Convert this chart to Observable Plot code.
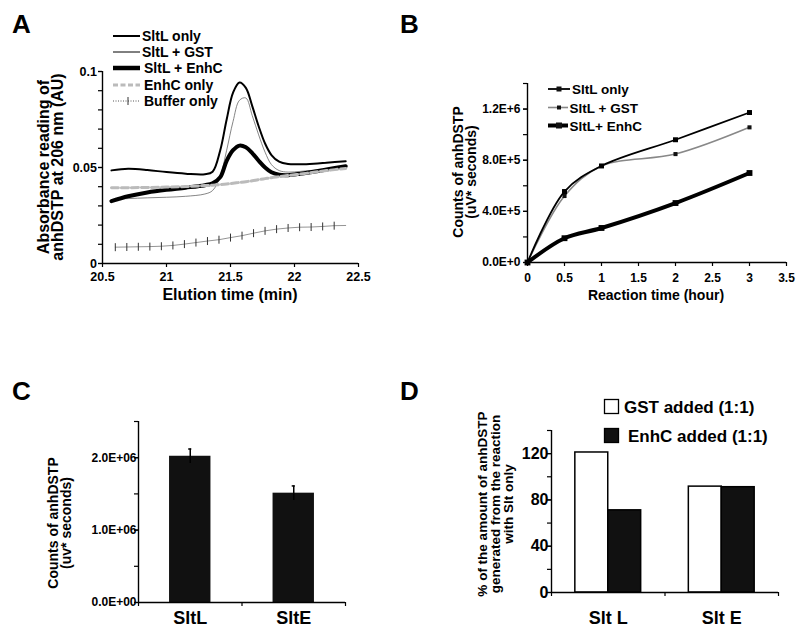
<!DOCTYPE html>
<html><head><meta charset="utf-8">
<script src="https://cdn.jsdelivr.net/npm/d3@7"></script>
<script src="https://cdn.jsdelivr.net/npm/@observablehq/plot@0.6"></script>
<style>
html,body{margin:0;padding:0;background:#fff;}
#fig{position:relative;width:800px;height:634px;overflow:hidden;background:#fff;}
</style></head><body><div id="fig"></div>
<script>
// ---------- Panel A: chromatogram ----------
const aTime = [20.57, 20.7, 20.85, 21.0, 21.15, 21.3, 21.36, 21.42, 21.47, 21.52, 21.57, 21.62, 21.67, 21.72, 21.77, 21.82, 21.88, 21.95, 22.05, 22.15, 22.25, 22.4];
const aSltLOnly = [0.0485, 0.0493, 0.0487, 0.0476, 0.0468, 0.0465, 0.0478, 0.0590, 0.0750, 0.0890, 0.0943, 0.0915, 0.0820, 0.0715, 0.0625, 0.0565, 0.0530, 0.0518, 0.0517, 0.0520, 0.0525, 0.0533];
const aSltLGST  = [0.0333, 0.0338, 0.0342, 0.0345, 0.0350, 0.0362, 0.0380, 0.0455, 0.0590, 0.0740, 0.0850, 0.0862, 0.0770, 0.0670, 0.0580, 0.0515, 0.0484, 0.0476, 0.0480, 0.0486, 0.0492, 0.0502];
const aSltLEnhC = [0.0325, 0.0350, 0.0370, 0.0384, 0.0395, 0.0408, 0.0418, 0.0450, 0.0535, 0.0590, 0.0614, 0.0605, 0.0575, 0.0535, 0.0500, 0.0475, 0.0462, 0.0460, 0.0468, 0.0478, 0.0490, 0.0507];
const aEnhCOnly = [0.0395, 0.0395, 0.0396, 0.0398, 0.0401, 0.0406, 0.0408, 0.0411, 0.0414, 0.0418, 0.0422, 0.0426, 0.0431, 0.0437, 0.0442, 0.0447, 0.0452, 0.0458, 0.0466, 0.0475, 0.0484, 0.0495];
const aBufTime = [20.60, 20.69, 20.78, 20.87, 20.96, 21.05, 21.14, 21.23, 21.32, 21.41, 21.50, 21.59, 21.68, 21.77, 21.86, 21.95, 22.04, 22.13, 22.22, 22.31, 22.40];
const aBufVal  = [0.0085, 0.0086, 0.0087, 0.0088, 0.0090, 0.0094, 0.0101, 0.0109, 0.0117, 0.0124, 0.0135, 0.0145, 0.0158, 0.0170, 0.0179, 0.0185, 0.0189, 0.0190, 0.0193, 0.0197, 0.0198];
const aSeries = ["SltL only", "SltL + GST", "SltL + EnhC", "EnhC only", "Buffer only"];
const aXTicks = [20.5, 21, 21.5, 22, 22.5];
const aXTickLabels = ["20.5", "21", "21.5", "22", "22.5"];
const aYTicks = [0, 0.01, 0.02, 0.03, 0.04, 0.05, 0.06, 0.07, 0.08, 0.09, 0.1];
const aYLabelTicks = [0, 0.05, 0.1];
const aYTickLabels = ["0", "0.05", "0.1"];
const aXTitle = "Elution time (min)";
const aYTitle = ["Absorbance reading of", "anhDSTP at 206 nm (AU)"];

// ---------- Panel B: time course ----------
const bTime = [0, 0.5, 1, 2, 3];
const bSltLOnly = [0, 555000, 755000, 960000, 1173000];
const bSltLGST  = [0, 520000, 755000, 848000, 1057000];
const bSltLEnhC = [0, 190000, 270000, 465000, 700000];
const bSeries = ["SltL only", "SltL + GST", "SltL+ EnhC"];
const bXTicks = [0, 0.5, 1, 1.5, 2, 2.5, 3, 3.5];
const bXTickLabels = ["0", "0.5", "1", "1.5", "2", "2.5", "3", "3.5"];
const bYTicks = [0, 200000, 400000, 600000, 800000, 1000000, 1200000, 1400000];
const bYLabelTicks = [0, 400000, 800000, 1200000];
const bYTickLabels = ["0.0E+0", "4.0E+5", "8.0E+5", "1.2E+6"];
const bXTitle = "Reaction time (hour)";
const bYTitle = ["Counts of anhDSTP", "(uV* seconds)"];

// ---------- Panel C: bar chart with error bars ----------
const cCats = ["SltL", "SltE"];
const cVals = [2020000, 1510000];
const cErr  = [100000, 100000];
const cYTicks = [0, 500000, 1000000, 1500000, 2000000, 2500000];
const cYLabelTicks = [0, 1000000, 2000000];
const cYTickLabels = ["0.0E+00", "1.0E+06", "2.0E+06"];
const cYTitle = ["Counts of anhDSTP", "(uv* seconds)"];

// ---------- Panel D: grouped bars ----------
const dCats = ["Slt L", "Slt E"];
const dGST  = [121, 91.5];
const dEnhC = [71, 91];
const dSeries = ["GST added (1:1)", "EnhC added (1:1)"];
const dYTicks = [0, 20, 40, 60, 80, 100, 120, 140];
const dYLabelTicks = [0, 40, 80, 120];
const dYTickLabels = ["0", "40", "80", "120"];
const dYTitle = ["% of the amount of anhDSTP", "generated from the reaction", "with Slt only"];

const panelLetters = ["A", "B", "C", "D"];

// ---------- rendering ----------
const FONT = '"Liberation Sans", Arial, Helvetica, sans-serif';
const fig = document.getElementById("fig");
const baseStyle = {fontFamily: FONT, fontWeight: "bold", background: "transparent", color: "black", overflow: "visible"};
function place(el, left, top) {
  el.style.position = "absolute";
  el.style.left = left + "px";
  el.style.top = top + "px";
  fig.appendChild(el);
}
const lab = (ticks, labels) => d => labels[ticks.indexOf(d)];
const blank = () => "";
const vtick = {draw(ctx, size) { const r = Math.sqrt(size / Math.PI); ctx.moveTo(0, -r); ctx.lineTo(0, r); }};

// A
const plotA = Plot.plot({
  width: 400, height: 317, marginLeft: 102, marginRight: 42, marginTop: 71, marginBottom: 54,
  style: baseStyle,
  x: {domain: [20.5, 22.5]}, y: {domain: [0, 0.1]},
  marks: [
    Plot.axisY({ticks: aYTicks, tickSize: 4, tickFormat: blank, strokeWidth: 1.2, label: null}),
    Plot.axisY({ticks: aYLabelTicks, tickSize: 4, tickPadding: 1.5, tickFormat: lab(aYLabelTicks, aYTickLabels), strokeWidth: 1.2, fontSize: 12.5, label: null}),
    Plot.axisX({ticks: aXTicks, tickSize: 4, tickPadding: 4.5, tickFormat: lab(aXTicks, aXTickLabels), strokeWidth: 1.2, fontSize: 12.5, label: null}),
    Plot.ruleX([20.5], {stroke: "black", strokeWidth: 1.4}),
    Plot.ruleY([0], {stroke: "black", strokeWidth: 1.4}),
    Plot.line(aBufTime, {x: d => d, y: (d, i) => aBufVal[i], stroke: "#888", strokeWidth: 0.9}),
    Plot.dot(aBufTime, {x: d => d, y: (d, i) => aBufVal[i], filter: (d, i) => i < aBufTime.length - 1, symbol: vtick, r: 4, stroke: "#333", strokeWidth: 1}),
    Plot.line(aTime, {x: d => d, y: (d, i) => aSltLGST[i], curve: "catmull-rom", stroke: "#666", strokeWidth: 0.8}),
    Plot.line(aTime, {x: d => d, y: (d, i) => aSltLOnly[i], curve: "catmull-rom", stroke: "black", strokeWidth: 2}),
    Plot.line(aTime, {x: d => d, y: (d, i) => aSltLEnhC[i], curve: "catmull-rom", stroke: "black", strokeWidth: 4}),
    Plot.line(aTime, {x: d => d, y: (d, i) => aEnhCOnly[i], curve: "catmull-rom", stroke: "#bbb", strokeWidth: 3, strokeDasharray: "7,3"})
  ]
});
place(plotA, 0, 0);

// B
const plotB = Plot.plot({
  width: 400, height: 317, marginLeft: 127, marginRight: 14, marginTop: 83, marginBottom: 55,
  style: baseStyle,
  x: {domain: [0, 3.5]}, y: {domain: [0, 1400000]},
  marks: [
    Plot.axisY({ticks: bYTicks, tickSize: 4, tickFormat: blank, strokeWidth: 1.2, label: null}),
    Plot.axisY({ticks: bYLabelTicks, tickSize: 4, tickPadding: 3, tickFormat: lab(bYLabelTicks, bYTickLabels), strokeWidth: 1.2, fontSize: 12, label: null}),
    Plot.axisX({ticks: bXTicks, tickSize: 4, tickPadding: 7, tickFormat: lab(bXTicks, bXTickLabels), strokeWidth: 1.2, fontSize: 12, label: null}),
    Plot.ruleX([0], {stroke: "black", strokeWidth: 1.4}),
    Plot.ruleY([0], {stroke: "black", strokeWidth: 1.4}),
    Plot.line(bTime, {x: d => d, y: (d, i) => bSltLGST[i], curve: "catmull-rom", stroke: "#888", strokeWidth: 1.6}),
    Plot.dot(bTime, {x: d => d, y: (d, i) => bSltLGST[i], symbol: "square", r: 2.3, fill: "#111"}),
    Plot.line(bTime, {x: d => d, y: (d, i) => bSltLOnly[i], curve: "catmull-rom", stroke: "black", strokeWidth: 1.8}),
    Plot.dot(bTime, {x: d => d, y: (d, i) => bSltLOnly[i], symbol: "square", r: 2.8, fill: "black"}),
    Plot.line(bTime, {x: d => d, y: (d, i) => bSltLEnhC[i], curve: "catmull-rom", stroke: "black", strokeWidth: 4}),
    Plot.dot(bTime, {x: d => d, y: (d, i) => bSltLEnhC[i], symbol: "square", r: 3.3, fill: "black"})
  ]
});
place(plotB, 400, 0);

// C
const plotC = Plot.plot({
  width: 400, height: 317, marginLeft: 138, marginRight: 55, marginTop: 104, marginBottom: 32,
  style: baseStyle,
  x: {domain: [0, 2]}, y: {domain: [0, 2500000]},
  marks: [
    Plot.rectY(cCats, {x1: (d, i) => i + 0.3, x2: (d, i) => i + 0.7, y1: 0, y2: (d, i) => cVals[i], fill: "#111"}),
    Plot.ruleX(cCats, {x: (d, i) => i + 0.5, y1: (d, i) => cVals[i] - cErr[i], y2: (d, i) => cVals[i] + cErr[i], stroke: "#000", strokeWidth: 1.5}),
    Plot.ruleY(cCats, {y: (d, i) => cVals[i] + cErr[i], x1: (d, i) => i + 0.485, x2: (d, i) => i + 0.515, stroke: "#000", strokeWidth: 1.5}),
    Plot.axisY({ticks: cYTicks, tickSize: 4, tickFormat: blank, strokeWidth: 1.2, label: null}),
    Plot.axisY({ticks: cYLabelTicks, tickSize: 4, tickPadding: -2, tickFormat: lab(cYLabelTicks, cYTickLabels), strokeWidth: 1.2, fontSize: 12, label: null}),
    Plot.axisX({ticks: [0, 1, 2], tickSize: 4, tickFormat: blank, strokeWidth: 1.2, label: null}),
    Plot.axisX({ticks: [0.5, 1.5], tickSize: 0, tickPadding: 9, tickFormat: d => cCats[Math.floor(d)], fontSize: 18, label: null}),
    Plot.ruleX([0], {stroke: "black", strokeWidth: 1.4}),
    Plot.ruleY([0], {stroke: "black", strokeWidth: 1.4})
  ]
});
place(plotC, 0, 317);

// D
const plotD = Plot.plot({
  width: 400, height: 317, marginLeft: 151, marginRight: 22, marginTop: 113, marginBottom: 42,
  style: baseStyle,
  x: {domain: [0, 2]}, y: {domain: [0, 140]},
  marks: [
    Plot.rectY(dCats, {x1: (d, i) => i + 0.21, x2: (d, i) => i + 0.5, y1: 0, y2: (d, i) => dGST[i], fill: "white", stroke: "black", strokeWidth: 1.5}),
    Plot.rectY(dCats, {x1: (d, i) => i + 0.5, x2: (d, i) => i + 0.79, y1: 0, y2: (d, i) => dEnhC[i], fill: "#111", stroke: "black", strokeWidth: 1.5}),
    Plot.axisY({ticks: dYTicks, tickSize: 4, tickFormat: blank, strokeWidth: 1.2, label: null}),
    Plot.axisY({ticks: dYLabelTicks, tickSize: 4, tickPadding: -1, tickFormat: lab(dYLabelTicks, dYTickLabels), strokeWidth: 1.2, fontSize: 16, label: null}),
    Plot.axisX({ticks: [0, 1, 2], tickSize: 4, tickFormat: blank, strokeWidth: 1.2, label: null}),
    Plot.axisX({ticks: [0.5, 1.5], tickSize: 0, tickPadding: 19, tickFormat: d => dCats[Math.floor(d)], fontSize: 18, label: null}),
    Plot.ruleX([0], {stroke: "black", strokeWidth: 1.4}),
    Plot.ruleY([0], {stroke: "black", strokeWidth: 1.4})
  ]
});
place(plotD, 400, 317);

// ---------- overlay: panel letters, axis titles, legends ----------
const ov = d3.create("svg").attr("width", 800).attr("height", 634)
  .style("position", "absolute").style("left", "0px").style("top", "0px")
  .attr("font-family", FONT).attr("font-weight", "bold").attr("fill", "black");
function txt(x, y, s, size, anchor = "start", rot = false) {
  const t = ov.append("text").attr("x", x).attr("y", y).attr("font-size", size).attr("text-anchor", anchor).text(s);
  if (rot) t.attr("transform", `rotate(-90 ${x} ${y})`);
  return t;
}
// letters
txt(12, 33, panelLetters[0], 26); txt(400, 33, panelLetters[1], 26);
txt(12, 400, panelLetters[2], 26); txt(400, 400, panelLetters[3], 26);
// axis titles
txt(49, 167, aYTitle[0], 16, "middle", true);
txt(62.5, 167, aYTitle[1], 16, "middle", true);
txt(230, 300, aXTitle, 16, "middle");
txt(462.5, 172, bYTitle[0], 14, "middle", true);
txt(476, 172, bYTitle[1], 14, "middle", true);
txt(656, 300, bXTitle, 14, "middle");
txt(58, 523, cYTitle[0], 14, "middle", true);
txt(71, 523, cYTitle[1], 14, "middle", true);
txt(487, 504, dYTitle[0], 13.5, "middle", true);
txt(500, 504, dYTitle[1], 13.5, "middle", true);
txt(513, 504, dYTitle[2], 13.5, "middle", true);

// legend A
const aLegY = [36, 52, 68, 85, 101];
const aLegStyle = [
  {stroke: "black", w: 2}, {stroke: "black", w: 1}, {stroke: "black", w: 4.5},
  {stroke: "#bbb", w: 3, dash: "5,2.5"}, {stroke: "#555", w: 1, dash: "1,1.5"}
];
aSeries.forEach((s, i) => {
  const st = aLegStyle[i];
  const l = ov.append("line").attr("x1", 113).attr("x2", 140).attr("y1", aLegY[i]).attr("y2", aLegY[i])
    .attr("stroke", st.stroke).attr("stroke-width", st.w);
  if (st.dash) l.attr("stroke-dasharray", st.dash);
  if (i === 4) ov.append("line").attr("x1", 128).attr("x2", 128).attr("y1", aLegY[i] - 4).attr("y2", aLegY[i] + 4).attr("stroke", "#333");
  txt(i >= 2 ? 144 : 142, aLegY[i] + 5, s, 14);
});

// legend B
const bLegY = [89, 107.5, 125.5];
const bLegStyle = [{stroke: "black", w: 1.8, r: 5}, {stroke: "#888", w: 1.6, r: 4}, {stroke: "black", w: 4, r: 6}];
bSeries.forEach((s, i) => {
  const st = bLegStyle[i];
  ov.append("line").attr("x1", 548).attr("x2", i === 0 ? 570 : 568).attr("y1", bLegY[i]).attr("y2", bLegY[i])
    .attr("stroke", st.stroke).attr("stroke-width", st.w);
  ov.append("rect").attr("x", 559 - st.r / 2).attr("y", bLegY[i] - st.r / 2).attr("width", st.r).attr("height", st.r).attr("fill", "#111");
  txt(i === 0 ? 572 : 569.5, bLegY[i] + 5, s, 13.5);
});

// legend D
const dLegY = [399.5, 428.5];
const dLegFill = ["white", "#111"];
dSeries.forEach((s, i) => {
  ov.append("rect").attr("x", 604.5).attr("y", dLegY[i]).attr("width", 14).attr("height", 14)
    .attr("fill", dLegFill[i]).attr("stroke", "black").attr("stroke-width", 1.3);
  txt(i === 0 ? 624 : 628, dLegY[i] + 13.5, s, 17);
});

fig.appendChild(ov.node());
</script></body></html>
